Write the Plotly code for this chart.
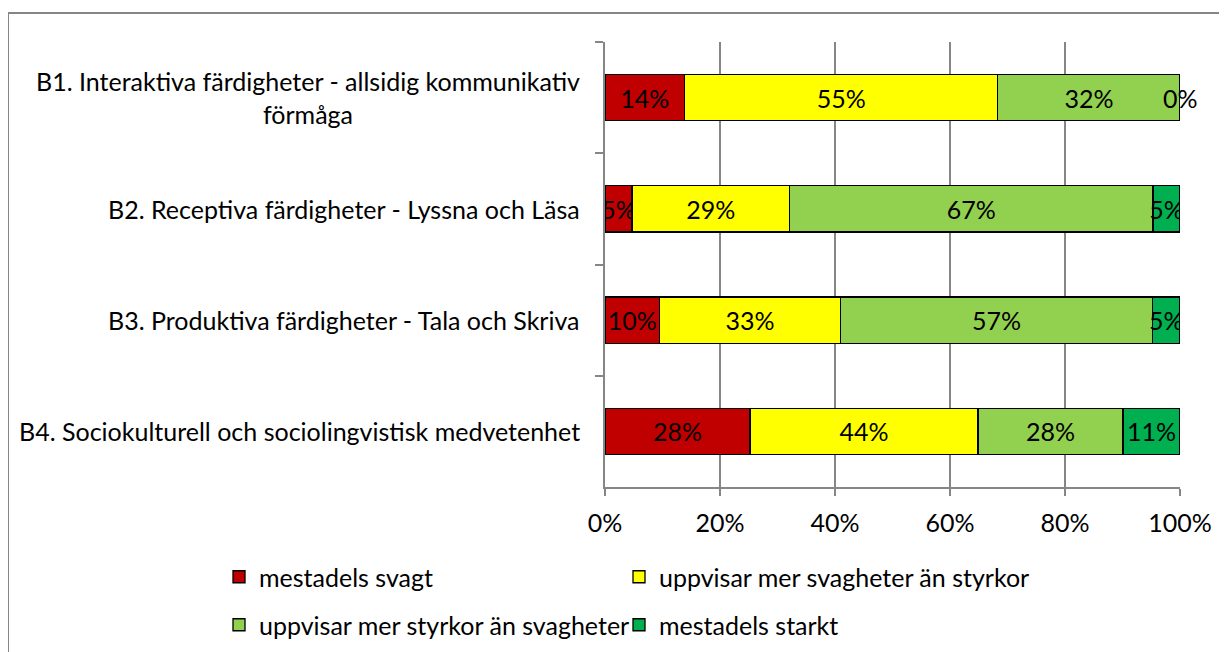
import plotly.graph_objects as go

categories = [
    "B1. Interaktiva färdigheter - allsidig kommunikativ<br>förmåga",
    "B2. Receptiva färdigheter - Lyssna och Läsa",
    "B3. Produktiva färdigheter - Tala och Skriva",
    "B4. Sociokulturell och sociolingvistisk medvetenhet",
]
series_names = [
    "mestadels svagt",
    "uppvisar mer svagheter än styrkor",
    "uppvisar mer styrkor än svagheter",
    "mestadels starkt",
]
mestadels_svagt = [14, 5, 10, 28]
mer_svagheter = [55, 29, 33, 44]
mer_styrkor = [32, 67, 57, 28]
mestadels_starkt = [0, 5, 5, 11]
series_values = [mestadels_svagt, mer_svagheter, mer_styrkor, mestadels_starkt]
colors = ["#C00000", "#FFFF00", "#92D050", "#00B050"]
legend_ids = ["legend", "legend", "legend2", "legend2"]
legend_widths = [355, 460, 355, 460]
x_ticks = [0, 20, 40, 60, 80, 100]

FONT = "Lato"
FS = 25
GRAY = "#868686"

# page body has an 8px margin; work in screenshot coordinates and shift
OFF = 8
W, H = 1227 - OFF, 652 - OFF
L, R, T, B = 605 - OFF, 47, 42 - OFF, 165
pw, ph = W - L - R, H - T - B

def px_x(x):
    return (x - OFF - L) / pw

def px_y(y):
    return (H - B - (y - OFF)) / ph

fig = go.Figure()
for name, vals, col, lg, lw in zip(series_names, series_values, colors, legend_ids, legend_widths):
    fig.add_trace(go.Bar(
        y=categories, x=vals, name=name, orientation="h",
        marker=dict(color=col, line=dict(color="black", width=1.3)),
        text=[f"{v}%" for v in vals], texttemplate="%{text}",
        textposition="inside", insidetextanchor="middle", textangle=0,
        constraintext="none",
        textfont=dict(family=FONT, size=FS, color="black"),
        legend=lg, legendwidth=lw, hoverinfo="skip",
    ))

# labels for zero-width segments (plotly draws no text for empty bars)
for i, cat in enumerate(categories):
    total = sum(s[i] for s in series_values)
    cum = 0
    for s in series_values:
        if s[i] == 0:
            fig.add_annotation(xref="x", yref="y", x=100 * cum / total, y=cat,
                               text=f"{s[i]}%", showarrow=False,
                               xanchor="center", yanchor="middle",
                               font=dict(family=FONT, size=FS, color="black"))
        cum += s[i]

for cat in categories:
    fig.add_annotation(
        xref="paper", yref="y", x=px_x(582), y=cat, text=cat,
        xanchor="right", yanchor="middle", align="center", showarrow=False,
        font=dict(family=FONT, size=FS, color="black"),
    )

fig.add_shape(type="rect", xref="paper", yref="paper",
              x0=px_x(8), x1=px_x(1250), y0=px_y(13), y1=px_y(680),
              line=dict(color=GRAY, width=2), fillcolor="rgba(0,0,0,0)", layer="below")

fig.update_layout(
    width=W, height=H, barmode="stack", barnorm="percent", bargap=0.585,
    margin=dict(l=L, r=R, t=T, b=B, pad=0, autoexpand=False),
    paper_bgcolor="white", plot_bgcolor="white",
    font=dict(family=FONT, size=FS, color="black"),
    showlegend=True,
    legend=dict(orientation="h", x=px_x(219), xanchor="left", y=px_y(577), yanchor="middle",
                traceorder="normal",
                font=dict(family=FONT, size=FS, color="black"), bgcolor="rgba(0,0,0,0)"),
    legend2=dict(orientation="h", x=px_x(219), xanchor="left", y=px_y(625), yanchor="middle",
                 traceorder="normal",
                 font=dict(family=FONT, size=FS, color="black"), bgcolor="rgba(0,0,0,0)"),
    xaxis=dict(range=[0, 100], tickvals=x_ticks, ticktext=[f"{t}%" for t in x_ticks],
               showgrid=True, gridcolor=GRAY, gridwidth=1.5, zeroline=False,
               showline=True, linecolor=GRAY, linewidth=1.5,
               ticks="outside", ticklen=7, tickcolor=GRAY, tickwidth=1.5,
               ticklabelstandoff=6,
               tickfont=dict(family=FONT, size=FS, color="black"), fixedrange=True),
    yaxis=dict(type="category", autorange="reversed", showticklabels=False,
               tickson="boundaries", ticks="outside", ticklen=8, tickcolor=GRAY, tickwidth=1.5,
               showgrid=False, zeroline=False,
               showline=True, linecolor=GRAY, linewidth=1.5, fixedrange=True),
)

fig.write_html("out.html")
